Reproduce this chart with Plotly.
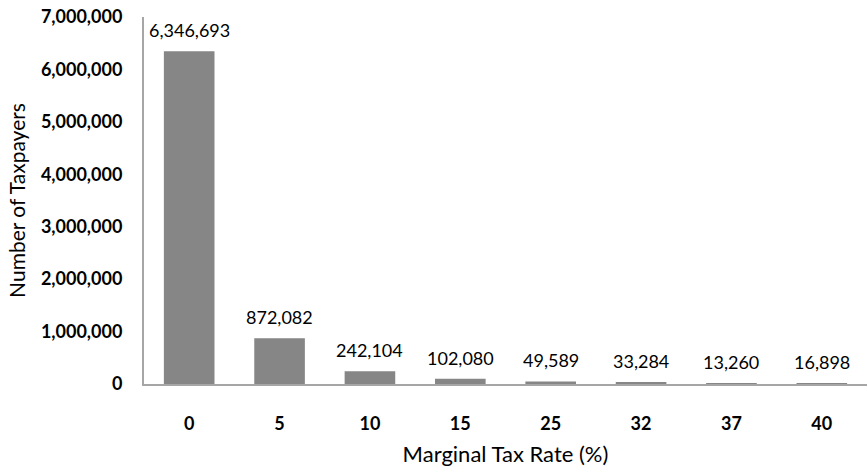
import plotly.graph_objects as go

# Number of taxpayers by marginal tax rate bracket
rates = ["0", "5", "10", "15", "25", "32", "37", "40"]
taxpayers = [6346693, 872082, 242104, 102080, 49589, 33284, 13260, 16898]
y_ticks = [0, 1000000, 2000000, 3000000, 4000000, 5000000, 6000000, 7000000]

font_family = "Lato"

fig = go.Figure(
    go.Bar(
        x=rates,
        y=taxpayers,
        marker=dict(color="#868686", line=dict(width=0)),
        cliponaxis=False,
        hoverinfo="x+y",
    )
)

# value labels sit a little above each bar (x given as category index)
for i, v in enumerate(taxpayers):
    fig.add_annotation(
        x=i, y=v, text=f"{v:,}",
        showarrow=False, yanchor="bottom", yshift=8,
        font=dict(family=font_family, size=18, color="#000000"),
    )

fig.update_layout(
    width=867,
    height=467,
    margin=dict(l=144, r=0, t=17, b=83),
    paper_bgcolor="white",
    plot_bgcolor="white",
    bargap=0.44,
    showlegend=False,
    font=dict(family=font_family, color="#000000"),
)

fig.update_xaxes(
    type="category",
    range=[-0.5, len(rates) - 0.5],
    automargin=False,
    showline=True,
    linecolor="#a6a6a6",
    linewidth=2,
    showgrid=False,
    ticks="",
    ticklabelstandoff=22,
    tickfont=dict(family=font_family, size=18, weight="bold"),
    title=dict(text="Marginal Tax Rate (%)", font=dict(family=font_family, size=22), standoff=20),
)

fig.update_yaxes(
    range=[0, 7000000],
    automargin=False,
    tickvals=y_ticks,
    ticktext=[f"{v:,}" for v in y_ticks],
    showline=True,
    linecolor="#a6a6a6",
    linewidth=2,
    showgrid=False,
    zeroline=False,
    ticks="",
    ticklabelstandoff=16,
    tickfont=dict(family=font_family, size=18, weight="bold"),
    title=dict(text="Number of Taxpayers", font=dict(family=font_family, size=21), standoff=10),
)

fig.write_html("out.html")
